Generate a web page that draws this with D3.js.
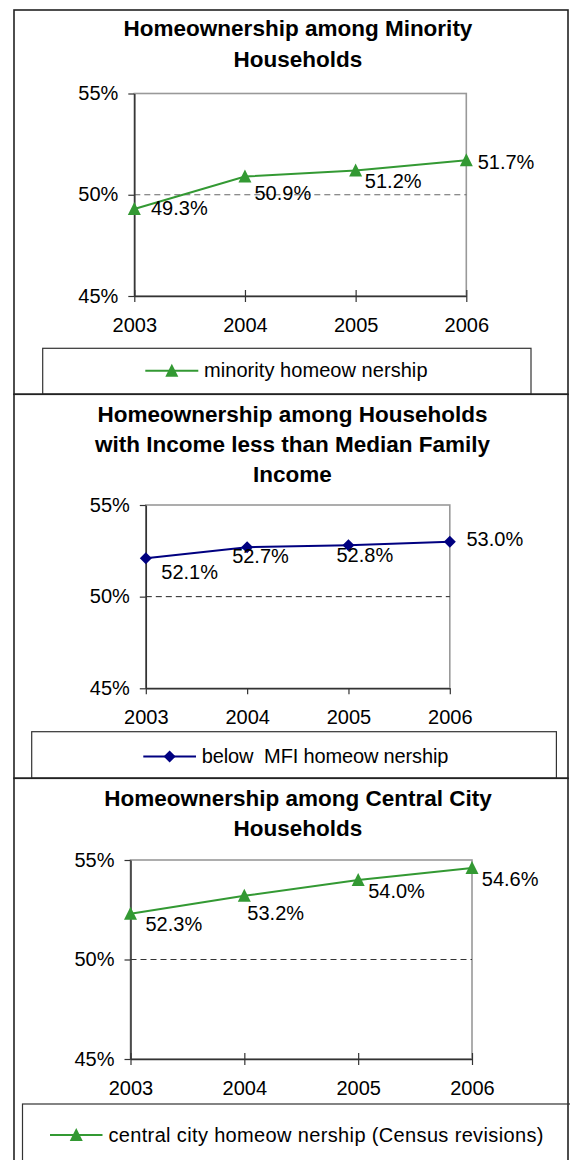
<!DOCTYPE html>
<html>
<head>
<meta charset="utf-8">
<script src="https://cdn.jsdelivr.net/npm/d3@7"></script>
<style>
  html, body { margin: 0; padding: 0; background: #fff; }
  svg { display: block; font-family: "Liberation Sans", Arial, sans-serif; }
</style>
</head>
<body>
<svg id="chart" width="570" height="1160"></svg>
<script>
// ---- data ----
const years = ["2003", "2004", "2005", "2006"];
const minorityRate = [49.3, 50.9, 51.2, 51.7];
const belowMfiRate = [52.1, 52.7, 52.8, 53.0];
const centralCityRate = [52.3, 53.2, 54.0, 54.6];
const yTicks = [45, 50, 55];
const referenceLine = 50;

const minorityTitle = ["Homeownership among Minority", "Households"];
const belowMfiTitle = ["Homeownership among Households", "with Income less than Median Family", "Income"];
const centralCityTitle = ["Homeownership among Central City", "Households"];

const minorityLegend = "minority homeow nership";
const belowMfiLegend = "below  MFI homeow nership";
const centralCityLegend = "central city homeow nership (Census revisions)";

// ---- marker shapes ----
const triangleMarker = {
  draw(ctx, size) {
    const h = Math.sqrt(size) / 2;
    ctx.moveTo(0, -h - 0.5);
    ctx.lineTo(h, h - 0.5);
    ctx.lineTo(-h, h - 0.5);
    ctx.closePath();
  }
};
const diamondMarker = {
  draw(ctx, size) {
    const h = Math.sqrt(size) / 2;
    ctx.moveTo(0, -h);
    ctx.lineTo(h, 0);
    ctx.lineTo(0, h);
    ctx.lineTo(-h, 0);
    ctx.closePath();
  }
};

const GREEN = "#339933";
const NAVY = "#000080";

// ---- panel layout ----
const panels = [
  {
    values: minorityRate, title: minorityTitle, legend: minorityLegend,
    color: GREEN, marker: triangleMarker, markerSize: 169,
    frame: { y0: 10, y1: 394.3 },
    plot: { l: 134.3, r: 466.3, t: 93.5, b: 296 },
    titleX: 298, titleY: [36, 66.5],
    legendBox: { x: 42.7, y: 348.3, w: 488.3, h: 46 },
    legendLine: { x1: 145.3, x2: 198.3, y: 370.7 }, legendTextX: 204, legendTextW: 223.5,
    crossTicks: true, refColor: "#666",
    labelOffsets: [[16.7, 6], [9.5, 23.5], [9.2, 17.2], [11.4, 8.7]]
  },
  {
    values: belowMfiRate, title: belowMfiTitle, legend: belowMfiLegend,
    color: NAVY, marker: diamondMarker, markerSize: 144,
    frame: { y0: 394.3, y1: 778.3 },
    plot: { l: 145.8, r: 449.8, t: 505, b: 688.3 },
    titleX: 292.5, titleY: [421.5, 451.5, 481.5],
    legendBox: { x: 31.7, y: 731.7, w: 524.7, h: 46.6 },
    legendLine: { x1: 143.3, x2: 196, y: 756.5 }, legendTextX: 201.8, legendTextW: 246.5,
    crossTicks: false, refColor: "#222",
    labelOffsets: [[15.5, 20.8], [-15, 16], [-12, 16.4], [16.7, 4.3]]
  },
  {
    values: centralCityRate, title: centralCityTitle, legend: centralCityLegend,
    color: GREEN, marker: triangleMarker, markerSize: 169,
    frame: { y0: 778.3, y1: 1200 },
    plot: { l: 130.5, r: 472, t: 860, b: 1059 },
    titleX: 298, titleY: [806, 835.5],
    legendBox: { x: 22.5, y: 1104, w: 600, h: 100 },
    legendLine: { x1: 50, x2: 102.5, y: 1135 }, legendTextX: 108.4, legendTextW: 435,
    crossTicks: true, refColor: "#333",
    labelOffsets: [[15, 17], [3, 24], [10, 18.4], [9.8, 18]]
  }
];

const svg = d3.select("#chart");

panels.forEach(p => {
  const g = svg.append("g");

  // chart frame
  g.append("rect")
    .attr("x", 14).attr("y", p.frame.y0)
    .attr("width", 554).attr("height", p.frame.y1 - p.frame.y0)
    .attr("fill", "#fff").attr("stroke", "#222").attr("stroke-width", 1.6);

  // title
  g.append("text")
    .attr("text-anchor", "middle")
    .attr("font-size", 22.5).attr("font-weight", "bold").attr("fill", "#000")
    .selectAll("tspan").data(p.title).join("tspan")
    .attr("x", p.titleX)
    .attr("y", (d, i) => p.titleY[i])
    .text(d => d);

  const x = d3.scalePoint().domain(years).range([p.plot.l, p.plot.r]).padding(0);
  const y = d3.scaleLinear().domain([45, 55]).range([p.plot.b, p.plot.t]);

  // plot area outline (top and right edges show in grey)
  g.append("rect")
    .attr("x", p.plot.l).attr("y", p.plot.t)
    .attr("width", p.plot.r - p.plot.l).attr("height", p.plot.b - p.plot.t)
    .attr("fill", "none").attr("stroke", "#999").attr("stroke-width", 1.6);

  // 50% reference line
  g.append("line")
    .attr("x1", p.plot.l).attr("x2", p.plot.r)
    .attr("y1", y(referenceLine)).attr("y2", y(referenceLine))
    .attr("stroke", p.refColor).attr("stroke-width", 1)
    .attr("stroke-dasharray", "6,4");

  // y axis
  const yAxis = g.append("g")
    .attr("transform", `translate(${p.plot.l},0)`)
    .call(d3.axisLeft(y).tickValues(yTicks).tickFormat(d => d + "%")
      .tickSizeInner(6).tickSizeOuter(0).tickPadding(10));
  yAxis.select(".domain").attr("stroke", "#333").attr("stroke-width", 1.5);
  yAxis.selectAll(".tick line").attr("stroke", "#333").attr("stroke-width", 1.2);
  yAxis.selectAll(".tick text")
    .attr("font-size", 20).attr("font-family", "Liberation Sans, Arial, sans-serif")
    .attr("fill", "#000").attr("dy", null).attr("y", 6);

  // x axis
  const xAxis = g.append("g")
    .attr("transform", `translate(0,${p.plot.b})`)
    .call(d3.axisBottom(x).tickSizeInner(6).tickSizeOuter(0));
  xAxis.select(".domain").attr("stroke", "#333").attr("stroke-width", 1.5);
  xAxis.selectAll(".tick line").attr("stroke", "#333").attr("stroke-width", 1.2)
    .attr("y1", p.crossTicks ? -6 : 0).attr("y2", 6);
  xAxis.selectAll(".tick text")
    .attr("font-size", 20).attr("font-family", "Liberation Sans, Arial, sans-serif")
    .attr("fill", "#000").attr("dy", null).attr("y", 36);

  // series line
  const pts = years.map((yr, i) => ({ year: yr, value: p.values[i], off: p.labelOffsets[i] }));
  g.append("path").datum(pts)
    .attr("fill", "none").attr("stroke", p.color).attr("stroke-width", 2)
    .attr("d", d3.line().x(d => x(d.year)).y(d => y(d.value)));

  // markers
  const symbol = d3.symbol().type(p.marker).size(p.markerSize);
  g.selectAll(".marker").data(pts).join("path")
    .attr("class", "marker")
    .attr("transform", d => `translate(${x(d.year)},${y(d.value)})`)
    .attr("d", symbol).attr("fill", p.color);

  // value labels
  g.selectAll(".vlabel").data(pts).join("text")
    .attr("class", "vlabel")
    .attr("x", d => x(d.year) + d.off[0])
    .attr("y", d => y(d.value) + d.off[1])
    .attr("font-size", 20).attr("fill", "#000")
    .text(d => d.value.toFixed(1) + "%");

  // legend
  const lb = p.legendBox;
  g.append("rect")
    .attr("x", lb.x).attr("y", lb.y).attr("width", lb.w).attr("height", lb.h)
    .attr("fill", "none").attr("stroke", "#333").attr("stroke-width", 1.2);
  const ll = p.legendLine;
  g.append("line")
    .attr("x1", ll.x1).attr("x2", ll.x2).attr("y1", ll.y).attr("y2", ll.y)
    .attr("stroke", p.color).attr("stroke-width", 2);
  g.append("path")
    .attr("transform", `translate(${(ll.x1 + ll.x2) / 2},${ll.y})`)
    .attr("d", symbol).attr("fill", p.color);
  g.append("text")
    .attr("x", p.legendTextX).attr("y", ll.y + 6.5)
    .attr("font-size", 20).attr("fill", "#000")
    .attr("textLength", p.legendTextW).attr("lengthAdjust", "spacing")
    .attr("xml:space", "preserve").style("white-space", "pre")
    .text(p.legend);
});
</script>
</body>
</html>
